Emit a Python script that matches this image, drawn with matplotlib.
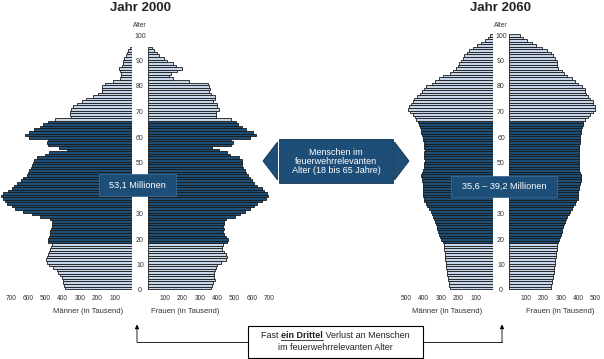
import numpy as np
import matplotlib.pyplot as plt
from matplotlib.patches import Rectangle, Polygon
from matplotlib.transforms import blended_transform_factory as blend

plt.rcParams['font.family'] = ['Liberation Sans', 'DejaVu Sans']

# population by single year of age 0..100, in thousands
ages = np.arange(0, 101)
men_2000 = [385, 395, 398, 400, 405, 416, 425, 435, 455, 480,
            493, 495, 493, 488, 480, 474, 468, 464, 488, 484,
            480, 476, 472, 468, 464, 464, 464, 474, 532, 580,
            630, 676, 695, 720, 735, 745, 757, 744, 715, 695,
            680, 667, 644, 632, 609, 600, 594, 585, 578, 570,
            565, 551, 503, 478, 378, 420, 488, 494, 484, 598,
            617, 594, 565, 532, 513, 484, 443, 354, 358, 358,
            354, 339, 316, 289, 266, 227, 198, 175, 175, 175,
            154, 112, 68, 65, 65, 68, 73, 60, 54, 50,
            44, 35, 27, 21, 12, 0, 0, 0, 0, 0, 0]
women_2000 = [365, 370, 376, 385, 382, 381, 381, 385, 393, 400,
              420, 451, 459, 452, 440, 426, 426, 431, 455, 462,
              450, 440, 436, 437, 435, 438, 440, 451, 503, 530,
              560, 590, 612, 630, 660, 680, 694, 685, 670, 657,
              630, 610, 600, 590, 580, 566, 560, 551, 545, 543,
              543, 524, 474, 455, 410, 368, 478, 489, 478, 590,
              622, 609, 566, 541, 522, 507, 478, 393, 393, 393,
              412, 401, 397, 378, 389, 389, 366, 354, 358, 354,
              345, 239, 146, 123, 131, 170, 195, 160, 146, 108,
              92, 64, 50, 35, 25, 0, 0, 0, 0, 0, 0]
men_2060 = [249, 252, 255, 258, 262, 264, 266, 268, 270, 272,
            274, 276, 278, 280, 280, 281, 282, 283, 288, 298,
            306, 311, 316, 321, 326, 330, 335, 340, 345, 352,
            360, 370, 380, 390, 397, 400, 402, 405, 405, 405,
            405, 405, 410, 412, 414, 410, 405, 400, 398, 396,
            395, 398, 398, 396, 395, 396, 398, 400, 403, 405,
            410, 414, 418, 422, 428, 435, 445, 450, 460, 480,
            490, 485, 475, 465, 455, 440, 420, 410, 400, 385,
            355, 335, 315, 290, 250, 230, 215, 205, 195, 185,
            175, 165, 150, 140, 115, 90, 70, 45, 30, 15, 0]
women_2060 = [241, 244, 247, 250, 252, 255, 258, 260, 262, 264,
              266, 268, 270, 272, 274, 275, 276, 276, 282, 288,
              295, 300, 304, 309, 314, 319, 324, 330, 338, 345,
              352, 362, 372, 381, 390, 398, 400, 400, 400, 402,
              405, 410, 415, 416, 414, 410, 407, 405, 404, 403,
              403, 404, 404, 405, 405, 406, 407, 408, 409, 410,
              412, 414, 416, 420, 425, 430, 440, 455, 468, 487,
              497, 495, 487, 484, 468, 455, 445, 438, 439, 420,
              400, 381, 362, 333, 320, 304, 285, 278, 279, 275,
              266, 256, 241, 218, 190, 156, 131, 102, 79, 64, 0]
# the 40 label sits under the totals box in the original, so it is not shown
age_ticks = [0, 10, 20, 30, 50, 60, 70, 80, 90, 100]
ticks_2000 = [100, 200, 300, 400, 500, 600, 700]
ticks_2060 = [100, 200, 300, 400, 500]
work_from, work_to = 18, 65

DARK = '#1d4e78'
LIGHT = '#c6d5ea'
EDGE = '#1a1a1a'
TXT = '#333333'
W, H = 604, 359
PX = 0.173            # pixel per thousand
Y0, Y1 = 293.55, 33.45  # pixel rows of axis y=-1 and y=101
OFF = 1.25            # bars sit slightly above the age labels

fig = plt.figure(figsize=(W / 100, H / 100), dpi=100)


def add_ax(x0, x1):
    ax = fig.add_axes([x0 / W, 1 - Y0 / H, (x1 - x0) / W, (Y0 - Y1) / H])
    ax.set_ylim(-1, 101)
    ax.patch.set_visible(False)
    for s in ax.spines.values():
        s.set_visible(False)
    ax.set_yticks([])
    return ax


def half(zero, edge, vals, ticks, label, label_x):
    vals = np.array(vals)
    if edge < zero:
        ax = add_ax(edge, zero)
        ax.set_xlim((zero - edge) / PX, 0)
    else:
        ax = add_ax(zero, edge)
        ax.set_xlim(0, (edge - zero) / PX)
    m = vals > 0
    cols = [DARK if work_from <= a <= work_to else LIGHT for a in ages[m]]
    ax.barh(ages[m] + OFF, vals[m], height=1, color=cols,
            edgecolor=EDGE, linewidth=0.6)
    ax.set_xticks(ticks)
    ax.tick_params(axis='x', length=0, pad=1.2, labelsize=4.8, labelcolor=TXT)
    ax.text(label_x, -0.068, label, transform=blend(ax.transData, ax.transAxes),
            ha='center', va='center', fontsize=5.5, color=TXT)
    return ax


def pyramid(zm, zf, xmin, xmax, men, women, ticks, title, lm, lf):
    half(zm, xmin, men, ticks, 'Männer (in Tausend)', lm)
    half(zf, xmax, women, ticks, 'Frauen (in Tausend)', lf)
    mid = add_ax(zm, zf)
    mid.set_xticks([])
    tr = blend(mid.transAxes, mid.transData)
    for t in age_ticks:
        mid.text(0.5, t, str(t), transform=tr, ha='center', va='center',
                 fontsize=5, color=TXT)
    mid.text(0.5, 104.3, 'Alter', transform=tr, ha='center', va='center',
             fontsize=4.8, color=TXT)
    mid.text(0.5, 111, title, transform=tr, ha='center', va='center',
             fontsize=9.5, fontweight='bold', color='#222222')


pyramid(132, 148, 0, 290, men_2000, women_2000, ticks_2000, 'Jahr 2000', 254, 214)
pyramid(493, 509, 400, 604, men_2060, women_2060, ticks_2060, 'Jahr 2060', 266, 295)

# annotation layer in pixel coordinates
ann = fig.add_axes([0, 0, 1, 1], zorder=5)
ann.set_xlim(0, W)
ann.set_ylim(H, 0)
ann.axis('off')

ann.add_patch(Rectangle((99, 174), 77, 22, fc=DARK, ec='#3b6a94', lw=0.6))
ann.text(137.5, 185, '53,1 Millionen', color='white', fontsize=6.6,
         ha='center', va='center')
ann.add_patch(Rectangle((451, 176), 106, 21, fc=DARK, ec='#3b6a94', lw=0.6))
ann.text(504, 186.5, '35,6 – 39,2 Millionen', color='white', fontsize=6.6,
         ha='center', va='center')

ann.add_patch(Rectangle((279, 139), 114, 44, fc=DARK, ec='#16354f', lw=0.6))
ann.add_patch(Polygon([(263, 161), (277.5, 142), (277.5, 180)], fc=DARK, ec='#16354f', lw=0.6))
ann.add_patch(Polygon([(394.5, 142), (394.5, 180), (409, 161)], fc=DARK, ec='#16354f', lw=0.6))
ann.text(336, 161.5, 'Menschen im\nfeuerwehrrelevanten\nAlter (18 bis 65 Jahre)',
         color='white', fontsize=6.5, ha='center', va='center', linespacing=1.05)

# bottom note with arrows
ann.add_patch(Rectangle((248, 326), 175, 32, fc='white', ec='black', lw=0.8))
r = fig.canvas.get_renderer()
parts = [('Fast ', 'normal'), ('ein Drittel', 'bold'), (' Verlust an Menschen', 'normal')]
txts = [ann.text(0, 335.5, s, fontsize=6.5, fontweight=w, ha='left', va='center',
                 color='#222222') for s, w in parts]
widths = [t.get_window_extent(r).width for t in txts]
x = 335.5 - sum(widths) / 2
starts = []
for t, w in zip(txts, widths):
    t.set_x(x)
    starts.append(x)
    x += w
ann.plot([starts[1], starts[1] + widths[1]], [339.5, 339.5], color='#222222', lw=0.6)
ann.text(335.5, 347.5, 'im feuerwehrrelevanten Alter', fontsize=6.5,
         ha='center', va='center', color='#222222')

for xa, xb in [(137, 248), (502, 423)]:
    ann.plot([xa, xb], [342, 342], color='black', lw=0.6)
    ann.annotate('', xy=(xa, 324.5), xytext=(xa, 342.3),
                 arrowprops=dict(arrowstyle='-|>', color='black', lw=0.6,
                                 mutation_scale=6, shrinkA=0, shrinkB=0))

fig.savefig('out.png', dpi=100)
